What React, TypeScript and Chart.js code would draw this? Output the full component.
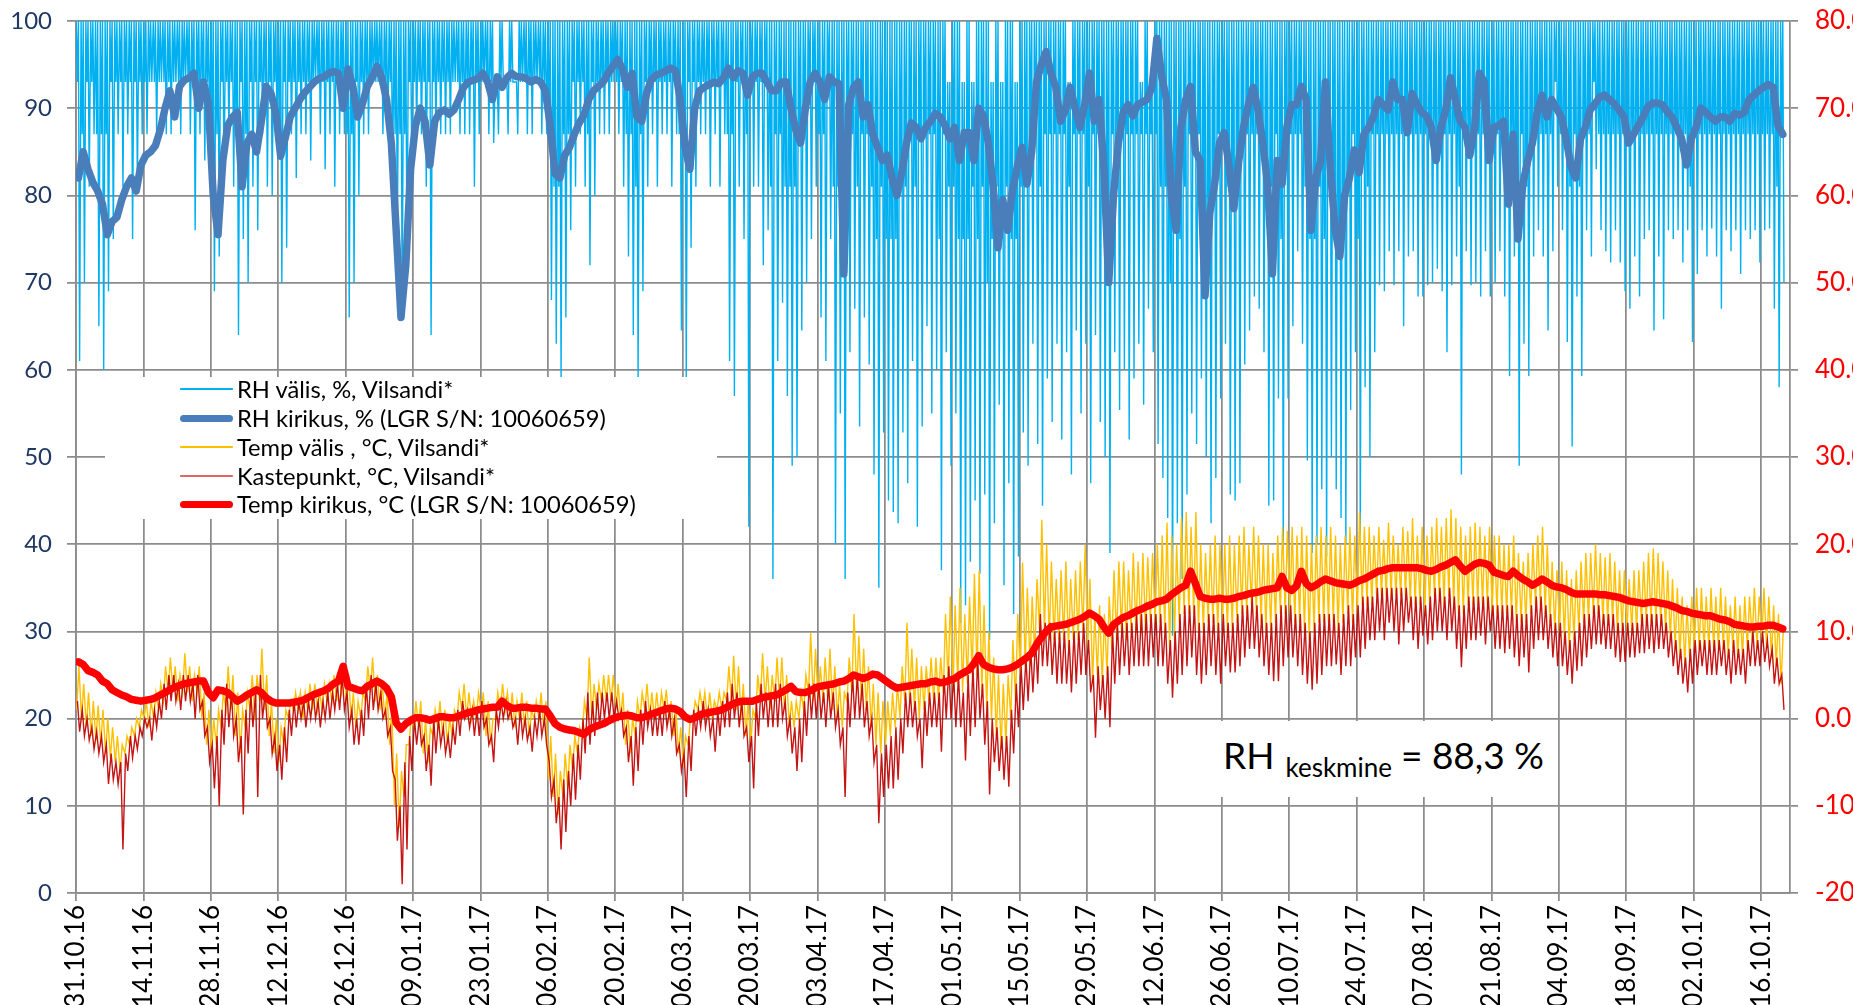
import React, { useEffect, useRef } from 'react';
import { Chart, registerables } from 'chart.js';

Chart.register(...registerables);

// ---------- axis ----------
const tickDays = [0, 14, 28, 42, 56, 70, 84, 98, 112, 126, 140, 154, 168, 182, 196, 210, 224, 238, 252, 266, 280, 294, 308, 322, 336, 350];
const tickLabels = ['31.10.16', '14.11.16', '28.11.16', '12.12.16', '26.12.16', '09.01.17', '23.01.17', '06.02.17', '20.02.17', '06.03.17', '20.03.17', '03.04.17', '17.04.17', '01.05.17', '15.05.17', '29.05.17', '12.06.17', '26.06.17', '10.07.17', '24.07.17', '07.08.17', '21.08.17', '04.09.17', '18.09.17', '02.10.17', '16.10.17'];
const X_MAX_DAY = 356;

// ---------- series (one value per day from 31.10.16) ----------
const rhKirikus = [
  82, 85, 83, 81.5, 80.5, 79, 75.5, 77, 77.5, 79.5,
  81, 82, 80.5, 83.5, 84.6, 85, 85.7, 87.5, 90, 92,
  89, 92.5, 93.2, 93.5, 94, 90, 93, 90.5, 80, 75.5,
  84, 88, 89, 89.5, 81, 86, 87, 85, 88.5, 92.5,
  91.7, 89.5, 84.5, 86.7, 89, 90, 91, 91.8, 92.4, 93,
  93.4, 93.6, 94, 94.2, 94, 90, 94.5, 92.5, 89, 90.5,
  92.5, 93.5, 94.8, 93.5, 91, 86, 76, 66, 72, 83,
  88, 90, 88.5, 83.5, 88.5, 89.5, 89.8, 89.3, 89.8, 91,
  92.4, 93, 93.2, 93.4, 94, 93, 91, 93.6, 92.4, 93.5,
  94, 93.6, 93.6, 93.4, 93, 93.3, 93, 92, 88, 82.5,
  82, 84.6, 85.5, 87, 88.3, 89.2, 91, 92, 92.5, 93,
  94, 94.8, 95.6, 94.5, 92.4, 94, 89, 88.5, 91.7, 93.3,
  93.8, 94, 94.3, 94.6, 94.3, 91, 85.5, 83, 90, 92,
  92.4, 92.7, 93, 92.8, 93.5, 94.6, 93.5, 94.3, 94, 91.5,
  93.6, 94, 94, 93, 92, 92, 93, 93, 90, 87.5,
  86, 90, 93, 94, 93, 91, 93.6, 93, 92.8, 71,
  90.4, 92.4, 93, 89, 90.4, 87, 85.5, 84, 84.6, 82,
  80, 82.6, 86, 88.3, 87.8, 86.5, 87.8, 88.5, 89.4, 89,
  88, 86.5, 87.8, 84, 87.2, 87.2, 84, 90, 89.1, 86,
  81, 74, 79.5, 76, 80.5, 83.3, 85.5, 81.3, 85, 93,
  95, 96.5, 94, 92.4, 88.5, 89.8, 92.4, 90, 87.8, 90.4,
  94, 88.5, 91, 83, 70, 80, 86, 89.5, 90.4, 89.1,
  90.4, 90.7, 91, 92.5, 98, 93.6, 91, 80, 76, 87.8,
  91, 92.5, 85, 84, 68.5, 78, 81.3, 86, 87.2, 83.3,
  78.5, 83.9, 87.8, 90.4, 92.4, 89.8, 86, 81.3, 71, 84,
  81.3, 87.8, 90.4, 90.4, 92.5, 91, 76, 82, 83.9, 93,
  83.3, 76.2, 73, 80, 82, 85.2, 82.6, 87, 87.8, 89.1,
  91, 90.4, 89.8, 93, 91, 91, 87.2, 91.7, 90.5, 89.5,
  89.1, 87.8, 84, 87.8, 89.8, 93.5, 91, 88.5, 87.8, 84.6,
  87.8, 94, 93, 84, 87.8, 88, 88.5, 79, 87, 75,
  81.3, 83.9, 86, 89.5, 91.5, 89, 91, 90, 89, 86.5,
  83.3, 82, 86.5, 87.8, 89.8, 90.5, 91.3, 91.5, 91, 90.5,
  89.8, 89, 86, 87, 88, 89, 90.2, 90.6, 90.6, 90.4,
  89.6, 89, 87.8, 86.5, 83.5, 86.5, 87.8, 90, 89.5, 89,
  88.5, 89, 89, 88.5, 89.4, 89.2, 89.5, 91, 91.5, 92,
  92.4, 92.7, 92.4, 88, 87,
];

const tempKirikus = [
  6.5, 6.2, 5.5, 5.3, 5, 4.3, 4, 3.3, 3, 2.7,
  2.5, 2.2, 2.1, 2, 2.1, 2.2, 2.4, 2.7, 3, 3.3,
  3.6, 3.8, 4, 4.1, 4.2, 4.3, 4.3, 3, 2.4, 3.3,
  3.2, 3, 2.5, 2, 2.3, 2.7, 3, 3.3, 3, 2.4,
  2, 1.8, 1.8, 1.8, 1.8, 1.9, 2, 2.2, 2.5, 2.8,
  3, 3.2, 3.5, 4, 4.3, 6, 3.7, 3.5, 3.3, 3.2,
  3.7, 4, 4.3, 4, 3.5, 2.5, -0.5, -1.2, -0.6, -0.2,
  0.1, 0.1, 0, -0.2, 0, 0.2, 0.2, 0.1, 0.1, 0.3,
  0.5, 0.7, 0.8, 1, 1.1, 1.2, 1.3, 1.3, 2, 1.5,
  1.2, 1.2, 1.3, 1.3, 1.2, 1.2, 1.1, 1.1, 0.3, -0.6,
  -1, -1.2, -1.3, -1.4, -1.6, -1.8, -1.3, -1, -0.8, -0.6,
  -0.3, 0, 0.2, 0.3, 0.4, 0.3, 0.1, 0.1, 0.3, 0.5,
  0.7, 0.9, 1.1, 1.2, 1.1, 0.8, 0.2, -0.1, 0.1, 0.4,
  0.6, 0.7, 0.8, 0.9, 1.1, 1.4, 1.7, 1.9, 2, 2,
  2, 2.2, 2.4, 2.5, 2.6, 2.7, 3, 3.3, 3.7, 3.1,
  3, 3, 3.2, 3.5, 3.7, 3.8, 3.9, 4, 4.2, 4.3,
  4.6, 5, 4.8, 4.6, 4.8, 5.1, 5, 4.6, 4.2, 3.8,
  3.5, 3.6, 3.7, 3.8, 3.9, 4, 4, 4.2, 4.3, 4.1,
  4.2, 4.4, 4.6, 5, 5.3, 5.6, 6.3, 7.2, 6.2, 5.9,
  5.7, 5.6, 5.6, 5.7, 5.9, 6.2, 6.6, 7, 7.5, 8.5,
  9.3, 10, 10.5, 10.6, 10.7, 10.8, 11, 11.2, 11.4, 11.7,
  12.1, 11.8, 11.4, 10.5, 9.8, 10.8, 11.2, 11.6, 11.8, 12.1,
  12.4, 12.6, 12.9, 13.1, 13.4, 13.5, 13.7, 14.2, 14.6, 15,
  15.3, 16.9, 15.5, 14, 13.8, 13.7, 13.7, 13.8, 13.7, 13.7,
  13.8, 14, 14.1, 14.3, 14.4, 14.5, 14.7, 14.8, 14.9, 15,
  16.3, 15, 14.7, 15.2, 16.9, 15.5, 15, 15.3, 15.7, 16,
  15.8, 15.6, 15.5, 15.4, 15.3, 15.5, 15.8, 16, 16.3, 16.6,
  16.9, 17, 17.2, 17.3, 17.3, 17.3, 17.3, 17.3, 17.3, 17.2,
  17, 16.9, 17.1, 17.4, 17.6, 17.9, 18.2, 17.5, 16.9, 17.3,
  17.7, 17.9, 17.8, 17.6, 16.8, 16.6, 16.4, 16.3, 16.9, 16.4,
  16, 15.7, 15.3, 15.6, 16, 15.7, 15.3, 15.1, 15, 14.8,
  14.5, 14.3, 14.3, 14.3, 14.3, 14.3, 14.2, 14.2, 14.1, 14,
  13.9, 13.7, 13.5, 13.4, 13.3, 13.2, 13.3, 13.4, 13.3, 13.2,
  13.1, 12.9, 12.7, 12.4, 12.3, 12.1, 12, 11.9, 11.8, 11.8,
  11.6, 11.4, 11.3, 11.1, 10.8, 10.7, 10.6, 10.5, 10.5, 10.6,
  10.6, 10.7, 10.7, 10.5, 10.3,
];

// RH välis: daily maximum, typical band floor and minimum
const rhValisHi = [
  100, 100, 100, 100, 100, 100, 100, 100, 100, 100,
  100, 100, 100, 100, 100, 100, 100, 100, 100, 100,
  100, 100, 100, 100, 100, 100, 100, 100, 100, 100,
  100, 100, 100, 100, 100, 100, 100, 100, 100, 100,
  100, 100, 100, 100, 100, 100, 100, 100, 100, 100,
  100, 100, 100, 100, 100, 100, 100, 100, 100, 100,
  100, 100, 100, 100, 100, 100, 100, 100, 100, 100,
  100, 100, 100, 100, 100, 100, 100, 100, 100, 100,
  100, 100, 100, 100, 100, 100, 100, 93, 100, 93,
  100, 93, 100, 100, 100, 100, 100, 100, 100, 100,
  100, 100, 100, 100, 100, 100, 100, 100, 100, 100,
  100, 100, 100, 100, 100, 100, 100, 100, 100, 100,
  100, 100, 100, 100, 100, 100, 100, 100, 100, 100,
  100, 100, 100, 100, 100, 100, 100, 100, 100, 100,
  100, 100, 100, 100, 100, 100, 100, 100, 100, 100,
  100, 100, 100, 100, 100, 100, 100, 100, 100, 100,
  100, 100, 100, 100, 100, 100, 100, 100, 100, 100,
  100, 100, 100, 100, 100, 100, 100, 100, 100, 100,
  100, 93, 100, 100, 93, 100, 93, 100, 100, 100,
  93, 100, 93, 100, 100, 93, 100, 100, 100, 100,
  100, 100, 100, 100, 100, 100, 93, 100, 100, 100,
  100, 100, 100, 100, 100, 100, 100, 100, 100, 100,
  100, 93, 100, 93, 100, 100, 100, 100, 100, 100,
  100, 100, 100, 100, 100, 100, 100, 100, 100, 100,
  100, 100, 100, 100, 100, 100, 100, 100, 100, 100,
  100, 100, 100, 100, 100, 100, 100, 100, 100, 100,
  100, 100, 100, 100, 100, 100, 100, 100, 100, 100,
  100, 100, 100, 100, 100, 100, 100, 100, 100, 100,
  100, 100, 100, 100, 100, 100, 100, 100, 100, 100,
  100, 100, 100, 100, 100, 100, 100, 100, 100, 100,
  100, 100, 100, 100, 100, 100, 100, 100, 100, 100,
  100, 100, 100, 100, 100, 100, 100, 100, 100, 100,
  100, 100, 100, 100, 100, 100, 100, 100, 100, 100,
  100, 100, 100, 100, 100, 100, 100, 100, 100, 100,
  100, 100, 100, 100, 100, 100, 100, 100, 100, 100,
  100, 100, 100, 100, 100,
];
const rhValisMid = [
  93, 87, 93, 93, 87, 87, 87, 93, 93, 93,
  93, 93, 93, 93, 93, 93, 93, 93, 93, 93,
  93, 93, 93, 93, 93, 93, 93, 93, 87, 87,
  93, 93, 93, 87, 93, 87, 93, 93, 93, 93,
  93, 93, 87, 93, 93, 93, 93, 93, 93, 93,
  93, 93, 93, 93, 93, 93, 87, 87, 93, 93,
  93, 93, 93, 93, 93, 93, 87, 87, 87, 93,
  93, 93, 93, 93, 93, 93, 93, 93, 93, 93,
  93, 93, 93, 93, 93, 93, 93, 93, 93, 93,
  93, 93, 93, 93, 93, 93, 93, 93, 87, 81,
  81, 87, 87, 93, 93, 93, 87, 93, 93, 93,
  93, 93, 93, 93, 87, 87, 81, 87, 93, 93,
  93, 93, 93, 93, 93, 87, 87, 93, 93, 93,
  93, 93, 93, 93, 93, 87, 87, 93, 93, 87,
  93, 93, 93, 93, 81, 87, 87, 81, 81, 81,
  87, 87, 93, 93, 87, 87, 93, 81, 81, 81,
  87, 87, 81, 87, 87, 81, 75, 81, 75, 75,
  75, 81, 81, 87, 81, 87, 87, 87, 87, 75,
  87, 81, 81, 75, 75, 75, 81, 75, 81, 70,
  75, 81, 75, 81, 75, 75, 81, 81, 87, 87,
  81, 87, 87, 87, 87, 87, 81, 87, 87, 87,
  81, 87, 87, 81, 75, 87, 87, 87, 87, 87,
  87, 87, 87, 87, 87, 81, 81, 70, 81, 75,
  81, 87, 87, 87, 81, 75, 81, 87, 87, 81,
  81, 81, 87, 87, 87, 87, 87, 81, 81, 87,
  75, 87, 87, 87, 87, 81, 75, 75, 81, 75,
  81, 81, 75, 75, 81, 87, 75, 87, 81, 87,
  87, 87, 87, 87, 87, 87, 87, 87, 87, 87,
  87, 87, 87, 87, 87, 87, 87, 81, 87, 87,
  87, 87, 87, 87, 87, 87, 87, 81, 87, 81,
  87, 81, 87, 87, 87, 87, 87, 93, 87, 87,
  81, 87, 81, 87, 87, 93, 87, 87, 87, 87,
  87, 87, 87, 87, 87, 87, 87, 87, 87, 87,
  87, 87, 87, 87, 87, 81, 87, 87, 87, 87,
  87, 87, 87, 87, 87, 87, 87, 87, 87, 87,
  87, 87, 87, 81, 87,
];
const rhValisLo = [
  61, 70, 81, 87, 65, 60, 69, 75, 87, 81,
  87, 75, 81, 87, 87, 93, 87, 93, 87, 87,
  93, 87, 93, 87, 76, 87, 84, 87, 69, 73,
  81, 87, 81, 64, 75, 70, 81, 76, 87, 81,
  80, 87, 70, 74, 87, 82, 87, 87, 84, 93,
  87, 83, 87, 81, 87, 87, 66, 70, 80, 87,
  87, 93, 93, 87, 87, 81, 75, 66, 70, 81,
  87, 87, 81, 64, 87, 87, 87, 87, 93, 87,
  87, 87, 81, 87, 93, 87, 86, 87, 93, 87,
  93, 87, 93, 87, 87, 93, 87, 87, 68, 63,
  59, 66, 76, 81, 87, 81, 72, 80, 87, 87,
  87, 93, 87, 81, 73, 64, 59, 69, 81, 87,
  81, 87, 87, 81, 87, 64.5, 59, 74, 81, 87,
  87, 81, 87, 81, 87, 61, 57, 81, 75, 42,
  81, 81, 72, 76, 36, 61, 67.7, 57, 49, 50,
  64.5, 70, 75, 81, 66, 61, 75, 40, 55, 36,
  62, 67, 53.5, 66, 60.6, 48, 35, 52.8, 45, 43.7,
  42.4, 52.8, 47, 61, 42, 53.5, 65, 55, 60, 37,
  62, 49, 55, 31, 33, 38, 45, 36.6, 45.7, 29,
  42.4, 56, 35.3, 47, 32, 38.6, 52.8, 49, 63, 51.5,
  44.4, 59, 54, 63, 52, 62, 48, 64.5, 55, 63,
  47, 64, 54, 50, 39, 62, 55.4, 60, 52, 59,
  63, 56, 67, 62, 51.5, 47.6, 43, 29.5, 42.4, 36,
  45.7, 55, 51.5, 59, 50, 42.4, 47.6, 56.7, 63, 45.7,
  45, 47, 60.6, 64.5, 68.4, 67, 62, 44.4, 45, 56.7,
  39, 56.7, 65, 73.6, 63, 49.6, 39, 40, 46.3, 38.6,
  50, 46.3, 43, 40, 55.4, 62, 40.5, 58, 50, 62,
  69.7, 69, 73.6, 69.7, 73.6, 65, 73, 73.6, 68.4, 68.4,
  69.7, 70, 71.6, 69, 62, 69.7, 73, 48, 73.6, 69.7,
  70, 68.4, 73.6, 68.4, 70, 73.6, 68.4, 59.3, 73, 49,
  63, 59.3, 73, 76, 73, 64.5, 73.6, 81, 76, 63.2,
  51.2, 68.4, 59.3, 76, 73, 83, 76, 73.6, 72.3, 76,
  72.3, 69, 67, 73, 68.4, 75, 76, 64.5, 73, 65.8,
  76, 75, 76, 72.3, 76, 63.2, 71, 76, 73, 76.2,
  73, 67, 76, 73.6, 76, 71, 76, 75, 76, 72.3,
  76, 76.2, 67, 58, 70,
];

// Temp välis: daily maximum and minimum (°C)
const tempValisHi = [
  6, 4, 3, 2, 1.5, 1, 0, -1, -2, -3,
  -2, -1, 0, 1, 2, 2, 3, 4, 6, 7,
  6, 5, 7.5, 6, 5, 6, 3, 1, 0, 1,
  3, 6, 5, 3, 1, 3, 5, 5, 8, 5,
  2, 0, -1, 1, 2, 3, 3, 3, 4, 4,
  3, 4, 4, 5, 5, 6, 5, 3, 2, 3,
  6, 7, 5, 4, 3, 1, -4, -6, -3, 0,
  2, 2, 0, -1, 1, 2, 1, 0, 1, 3,
  4, 3, 2, 3, 3, 2, 0, 3, 4, 3,
  3, 2, 3, 2, 1, 2, 3, 2, -2, -4,
  -6, -4, -3, -2, -1, 2, 7, 4, 4, 5,
  5, 5, 4, 3, 1, 0, 2, 3, 4, 3,
  3, 3, 3.3, 2, 1, -1, -2, 0, 2, 3,
  3, 3, 2, 3, 3, 6, 7.2, 6, 4, 2,
  1, 5, 7.5, 6, 5, 7, 7, 5, 2, 2,
  3, 5, 9.8, 8, 6, 7, 8, 6, 4, 3,
  7, 12, 9.5, 8, 6, 4, 3, 2, 2, 3,
  4, 6, 11, 8, 7, 6, 6, 7, 7, 7,
  12, 14, 13, 15, 12, 14, 16.6, 17, 13, 10,
  7, 5, 4, 5, 9, 12, 17.9, 15, 14, 16,
  22.8, 20, 18, 16, 17, 18, 16, 17, 18, 19.9,
  16, 12, 13, 12, 14, 17, 18, 18, 17, 19,
  18, 19, 18.5, 19, 20, 21, 22.5, 21, 20, 23,
  23.7, 22, 23.7, 20, 19, 20, 21, 20, 20, 21,
  20, 21, 22, 20, 22, 21, 20, 20, 19, 21,
  22, 21.5, 22, 21, 22, 21, 20, 21, 22, 21,
  22, 21, 20, 21, 22, 21, 23.7, 22, 22, 21,
  22, 20.5, 22.5, 21, 20, 22, 21.5, 23, 21, 22,
  21, 22, 23, 22, 23, 24, 23, 22, 21, 22,
  22.5, 22, 21, 22, 21, 21, 20, 20, 21, 19,
  18, 19, 20, 21, 22, 20, 18, 17, 18, 17,
  16, 17, 18, 19, 19, 20, 19, 18.5, 19, 18,
  17, 17, 16, 17, 17, 18, 19, 19.5, 19, 18,
  17, 16, 15, 14, 13, 14, 15, 15, 14, 15,
  14, 15, 14, 13, 14, 13, 14, 14, 15, 14,
  15, 14, 13, 12, 10,
];
const tempValisLo = [
  1, 0, -1, -2, -2.5, -3, -4, -4.5, -5, -6,
  -4, -3, -2, -1, 0, -1, 0, 1, 2, 3,
  3, 2, 3, 3, 2, 3, 0, -3, -4, -3,
  -1, 1, 1, -2, -4, -1, 1, 0, 2, 1,
  -2, -4, -5, -3, 0, 1, 1, 0, 1, 1,
  1, 1, 2, 2, 2, 3, 2, 0, -1, 0,
  2, 3, 2, 1, 0, -3, -10, -12.5, -9, -3,
  -1, -1, -4, -5, -2, -1, -2, -3, -2, 0,
  1, 0, 0, 0, 1, -2, -3, 0, 1, 1,
  0, -1, 0, -1, -2, 0, 0, -1, -7, -9,
  -11, -9, -8, -6, -4, -2, 0, 0, 1, 2,
  2, 2, 1, 0, -3, -4, -2, 0, 1, 0,
  0, 0, 1, 0, -2, -4, -5.4, -3, 0, 1,
  1, 0, 0, 1, 1, 2, 2, 1, 0, -2,
  -3, 0, 2, 2, 1, 2, 2, 1, -1, -1,
  0, 1, 3, 2, 2, 2, 2, 1, 0, -1,
  2, 3, 3, 2, 1, -1, -3, -4, -3, -2,
  -1, 0, 2, 2, 1, 0, 1, 2, 2, 2,
  3, 4, 3, 4, 3, 4, 5, 5, 3, 1,
  0, -2, -3.5, -3, 0, 2, 5, 6, 6, 7,
  10, 10, 9, 9, 9, 9, 8, 9, 9, 10,
  8, 4, 5, 4, 5, 8, 9, 10, 9, 10,
  10, 10, 10, 11, 11, 11, 10, 8, 9, 11,
  12, 12, 12, 10, 10, 11, 11, 10, 11, 10,
  10, 11, 12, 12, 13, 12, 11, 10, 10, 11,
  12, 12, 12, 11, 11, 10, 9, 10, 11, 11,
  11, 11, 10, 11, 12, 11, 12, 13, 13, 13,
  14, 14, 14, 14, 14, 14, 14, 13, 13, 13,
  12, 13, 14, 14, 13, 14, 13, 12, 12, 13,
  13, 13, 13, 13, 12, 12, 12, 12, 12, 11,
  11, 11, 12, 13, 13, 12, 11, 10, 10, 9,
  8, 9, 10, 11, 11, 12, 12, 11, 11, 11,
  10, 10, 10, 10, 10, 11, 11, 11, 11, 11,
  10, 9, 8, 7, 6, 7, 8, 8, 8, 8,
  8, 8, 8, 7, 8, 7, 7, 8, 9, 8,
  9, 8, 7, 6, 4,
];

// Kastepunkt: daily maximum and minimum (°C)
const kastepunktHi = [
  2, 1, 0, -1, -1.5, -2, -3, -4, -5, -5,
  -4, -2, -2, -1, 0, 0, 1, 2, 4, 5,
  5, 4, 5, 5, 4, 5, 2, -1, -3, -2,
  1, 4, 3, 0, -2, 1, 3, 3, 5, 3,
  0, -2, -3, -1, 1, 2, 2, 2, 2, 3,
  2, 2, 3, 3, 4, 5, 3, 1, 0, 1,
  4, 5, 4, 3, 1, -1, -7, -10, -5, -2,
  0, 0, -2, -3, 0, 0, -1, -2, -1, 1,
  2, 1, 1, 1, 2, 0, -2, 1, 2, 2,
  1, 0, 1, 0, -1, 0, 1, 0, -5, -7,
  -9, -7, -6, -4, -3, 0, 3, 2, 3, 3,
  3, 3, 2, 1, -1, -2, -1, 1, 2, 1,
  1, 1, 2, 1, 0, -3, -4, -2, 1, 1,
  2, 1, 0, 1, 2, 3, 4, 3, 2, -1,
  -2, 2, 4, 3, 3, 4, 4, 2, 0, -1,
  0, 2, 4, 4, 4, 3, 4, 3, 1, -1,
  3, 5, 5, 4, 2, 0, -3, -4, -3, -2,
  -1, 0, 3, 3, 2, 0, 2, 3, 3, 3,
  5, 6, 5, 5, 3, 5, 6, 7, 4, 2,
  0, -1, -2, -2, 1, 4, 6, 7, 8, 9,
  12, 11, 11, 10, 10, 10, 9, 10, 10, 11,
  9, 5, 6, 5, 6, 10, 11, 11, 11, 11,
  12, 12, 12, 12, 12, 12, 11, 9, 10, 12,
  13, 13, 13, 11, 11, 12, 12, 11, 12, 11,
  11, 12, 13, 13, 14, 13, 12, 11, 11, 12,
  13, 13, 13, 12, 12, 11, 10, 11, 12, 12,
  12, 12, 11, 12, 13, 12, 13, 14, 14, 14,
  15, 15, 15, 15, 15, 15, 15, 14, 14, 14,
  13, 14, 15, 15, 14, 15, 14, 13, 13, 14,
  14, 14, 14, 14, 13, 13, 13, 13, 13, 12,
  12, 12, 13, 14, 14, 13, 12, 11, 11, 10,
  9, 10, 11, 12, 12, 13, 13, 12, 12, 12,
  11, 11, 11, 11, 11, 12, 12, 12, 12, 12,
  11, 10, 9, 8, 7, 8, 9, 9, 9, 9,
  9, 9, 9, 8, 9, 8, 8, 9, 10, 9,
  10, 9, 8, 7, 5,
];
const kastepunktLo = [
  -1.5, -2, -2.5, -3.5, -4, -5, -7.5, -7, -7.5, -15,
  -6, -4.5, -3.5, -2, -1, -2.5, -1, 0, 1, 2,
  2, 1, 2, 2, 0, 1, -2, -5, -8, -10,
  -3, -1, -2, -5, -11, -4, -1, -9, 0, -1,
  -4, -6, -7, -5, -2, -1, 0, -1, 0, 0,
  -1, 0, 0, 1, 1, 1, -1, -3, -3, -2,
  0, 1, 1, 0, -2, -6, -14, -19, -15, -6,
  -3, -3, -6, -7.7, -4, -3, -4, -4.5, -3, -2,
  0, -1, -2, -2, -1, -3, -5, -1, 0, 0,
  -1, -3, -2, -2.5, -3.8, -2, -2, -3, -9, -12,
  -15, -13, -10, -9.3, -7, -4, -3, -2, -1, 0,
  0, 0, 0, -2, -5, -7.7, -6, -3, -1, -2,
  -2, -2, -1, -2, -4, -6, -9, -6, -2, -1,
  -1, -2, -3.8, -2, -1, -1, 0, -1, -2, -5,
  -8, -2, 0, -1, -1, -1, 0, -2, -4, -6,
  -5, -2, 0, 0, 0, -1, 0, -1, -3, -9,
  -1, 0, 0, -1, -2, -5, -12, -9, -8, -8,
  -7, -4, -1, -1, -2, -5.7, -2, -1, -1, -3.8,
  0, 0, -1, -1, -4.8, -2, -1, 0, -3, -8.7,
  -5, -6, -7, -7.8, -4, -1, 1, 2, 3, 4,
  6, 6, 5, 4, 4, 4, 3, 4, 5, 5,
  3, -2.2, 1, 0, -1, 4, 5, 6, 5, 6,
  6, 6, 6, 7, 6, 6, 4, 2.4, 4, 5,
  6, 7, 5, 4, 5, 6, 5, 4, 6, 5.3,
  5.3, 6, 7, 8, 8, 7, 6, 5, 4.3, 4.3,
  6, 7, 7, 6, 5, 4, 3.3, 4, 5, 6,
  6, 6.2, 5, 6, 6, 7, 7, 8, 9, 9,
  10, 9, 11, 10, 8.5, 10, 11, 9, 8, 9.5,
  8.5, 9, 10, 10, 9, 10, 8, 5.9, 8, 9,
  9, 9.5, 8.5, 10, 8, 8, 7.5, 8, 7, 6,
  7, 5.3, 8, 9, 9, 8, 7, 6, 6, 5,
  4, 5.5, 6, 7, 8, 8.5, 8.5, 8, 8, 7,
  6.5, 6.5, 7, 7, 7.5, 7.5, 8, 7.5, 8, 8,
  7, 6, 5, 4, 3, 4, 5, 6, 5, 5,
  5, 6, 5, 4, 5, 5, 4, 6, 6, 6,
  6.5, 6, 4, 4, 1,
];

// ---------- styling ----------
const GRID = '#8c8c8c';
const FONT = 'Lato, "Open Sans", sans-serif';
const CANVAS_W = 1885;
const CANVAS_H = 1030;
const AREA_LEFT = 76;
const AREA_TOP = 21;
const AREA_RIGHT = 1790;
const AREA_BOTTOM = 893;

const C_RH_VALIS = '#00B0F0';
const C_RH_KIRIKUS = '#4A7EBB';
const C_TEMP_VALIS = '#FFC000';
const C_KASTEPUNKT = 'rgba(192,0,0,0.92)';
const C_TEMP_KIRIKUS = '#FF0000';

type P = { x: number; y: number };
const daily = (arr: number[], off: number): P[] => arr.map((v, i) => ({ x: i + off, y: v }));
const zigzag = (a: number[], offA: number, b: number[], offB: number): P[] => {
  const out: P[] = [];
  for (let i = 0; i < a.length; i++) {
    const pa = { x: i + offA, y: a[i] };
    const pb = { x: i + offB, y: b[i] };
    if (offA <= offB) out.push(pa, pb);
    else out.push(pb, pa);
  }
  return out;
};
// RH välis: per day max -> band floor -> max -> min
const rhValisPoints = (): P[] => {
  const out: P[] = [];
  for (let i = 0; i < rhValisHi.length; i++) {
    out.push({ x: i + 0.05, y: rhValisHi[i] });
    out.push({ x: i + 0.28, y: rhValisMid[i] });
    out.push({ x: i + 0.5, y: rhValisHi[i] });
    out.push({ x: i + 0.75, y: rhValisLo[i] });
  }
  return out;
};

const legendItems = [
  { label: 'RH välis, %, Vilsandi*', color: C_RH_VALIS, width: 1.5 },
  { label: 'RH kirikus, % (LGR S/N: 10060659)', color: C_RH_KIRIKUS, width: 7 },
  { label: 'Temp välis , °C, Vilsandi*', color: C_TEMP_VALIS, width: 1.5 },
  { label: 'Kastepunkt, °C, Vilsandi*', color: '#E06666', width: 1.5 },
  { label: 'Temp kirikus, °C (LGR S/N: 10060659)', color: C_TEMP_KIRIKUS, width: 7 },
];

const noVerticalPad = (s: any) => {
  s.paddingTop = 0;
  s.paddingBottom = 0;
};

export default function App() {
  const ref = useRef<HTMLCanvasElement | null>(null);

  useEffect(() => {
    document.body.style.margin = '0';
    const canvas = ref.current;
    if (!canvas) return;
    Chart.defaults.font.family = FONT;

    const chart = new Chart(canvas, {
      type: 'line',
      data: {
        datasets: [
          {
            label: 'Temp kirikus, °C (LGR S/N: 10060659)',
            data: daily(tempKirikus, 0.5),
            yAxisID: 'y2',
            borderColor: C_TEMP_KIRIKUS,
            borderWidth: 7.5,
            borderCapStyle: 'round',
            borderJoinStyle: 'round',
            order: 1,
          },
          {
            label: 'Kastepunkt, °C, Vilsandi*',
            data: zigzag(kastepunktHi, 0.3, kastepunktLo, 0.75),
            yAxisID: 'y2',
            borderColor: C_KASTEPUNKT,
            borderWidth: 1.4,
            order: 2,
          },
          {
            label: 'Temp välis , °C, Vilsandi*',
            data: zigzag(tempValisHi, 0.6, tempValisLo, 0.15),
            yAxisID: 'y2',
            borderColor: C_TEMP_VALIS,
            borderWidth: 1.4,
            order: 3,
          },
          {
            label: 'RH kirikus, % (LGR S/N: 10060659)',
            data: daily(rhKirikus, 0.5),
            yAxisID: 'y',
            borderColor: C_RH_KIRIKUS,
            borderWidth: 7.5,
            borderCapStyle: 'round',
            borderJoinStyle: 'round',
            order: 4,
          },
          {
            label: 'RH välis, %, Vilsandi*',
            data: rhValisPoints(),
            yAxisID: 'y',
            borderColor: C_RH_VALIS,
            borderWidth: 1.4,
            order: 5,
          },
        ],
      },
      options: {
        animation: false,
        responsive: false,
        maintainAspectRatio: false,
        events: [],
        layout: { padding: { top: AREA_TOP, left: 0, right: 0, bottom: 0 } },
        elements: { point: { radius: 0 }, line: { tension: 0, fill: false } },
        plugins: { legend: { display: false }, tooltip: { enabled: false } },
        scales: {
          x: {
            type: 'linear',
            min: 0,
            max: X_MAX_DAY,
            afterBuildTicks: (s: any) => {
              s.ticks = tickDays.map((v) => ({ value: v }));
            },
            afterFit: (s: any) => {
              s.height = CANVAS_H - AREA_BOTTOM;
              s.paddingLeft = 0;
              s.paddingRight = 0;
            },
            ticks: {
              autoSkip: false,
              minRotation: 90,
              maxRotation: 90,
              padding: 4,
              color: '#000000',
              font: { size: 26, family: FONT },
              callback: (v: any) => {
                const i = tickDays.indexOf(Number(v));
                return i >= 0 ? tickLabels[i] : '';
              },
            },
            grid: { color: GRID, lineWidth: 1.75, tickLength: 8, drawTicks: true },
            border: { color: GRID, width: 1.75 },
          },
          y: {
            position: 'left',
            min: 0,
            max: 100,
            afterFit: (s: any) => {
              s.width = AREA_LEFT;
              noVerticalPad(s);
            },
            ticks: { stepSize: 10, padding: 15, color: '#1F3864', font: { size: 24, family: FONT } },
            grid: { color: GRID, lineWidth: 1.75, tickLength: 9, drawTicks: true },
            border: { color: GRID, width: 1.75 },
          },
          y2: {
            position: 'right',
            min: -20,
            max: 80,
            afterFit: (s: any) => {
              s.width = CANVAS_W - AREA_RIGHT;
              noVerticalPad(s);
            },
            ticks: {
              stepSize: 10,
              padding: 17,
              color: '#FF0000',
              font: { size: 26, family: FONT },
              callback: (v: any) => Number(v).toFixed(1),
            },
            grid: { drawOnChartArea: false, color: GRID, lineWidth: 1.75, tickLength: 8, drawTicks: true },
            border: { color: GRID, width: 1.75 },
          },
        },
      },
    } as any);

    return () => {
      chart.destroy();
    };
  }, []);

  return (
    <div
      style={{
        position: 'fixed',
        left: 0,
        top: 0,
        width: 1853,
        height: 1005,
        overflow: 'hidden',
        background: '#ffffff',
      }}
    >
      <canvas
        ref={ref}
        width={CANVAS_W}
        height={CANVAS_H}
        style={{ position: 'absolute', left: 0, top: 0, width: CANVAS_W, height: CANVAS_H }}
      />
      {/* legend */}
      <div
        style={{
          position: 'absolute',
          left: 105,
          top: 377,
          width: 612,
          height: 142,
          background: '#ffffff',
          fontFamily: FONT,
          fontSize: 23.7,
          color: '#000',
        }}
      >
        {legendItems.map((it, i) => {
          const cy = [12, 41, 70, 99, 127][i];
          return (
            <React.Fragment key={it.label}>
              <div
                style={{
                  position: 'absolute',
                  left: 75,
                  width: 53,
                  top: cy - it.width / 2,
                  height: it.width,
                  background: it.color,
                  borderRadius: it.width / 2,
                }}
              />
              <div
                style={{
                  position: 'absolute',
                  left: 132,
                  top: cy - 14,
                  height: 28,
                  lineHeight: '28px',
                  whiteSpace: 'nowrap',
                }}
              >
                {it.label}
              </div>
            </React.Fragment>
          );
        })}
      </div>
      {/* annotation */}
      <div
        style={{
          position: 'absolute',
          left: 1190,
          top: 721,
          width: 362,
          height: 76,
          background: '#ffffff',
        }}
      >
        <div
          style={{
            position: 'absolute',
            left: 33,
            top: 10,
            whiteSpace: 'nowrap',
            fontFamily: FONT,
            color: '#000',
            lineHeight: '48px',
          }}
        >
          <span style={{ fontSize: 37 }}>RH</span>
          <span style={{ fontSize: 26, marginLeft: 11, position: 'relative', top: 8 }}>keskmine</span>
          <span style={{ fontSize: 37, marginLeft: 9 }}>= 88,3 %</span>
        </div>
      </div>
    </div>
  );
}
